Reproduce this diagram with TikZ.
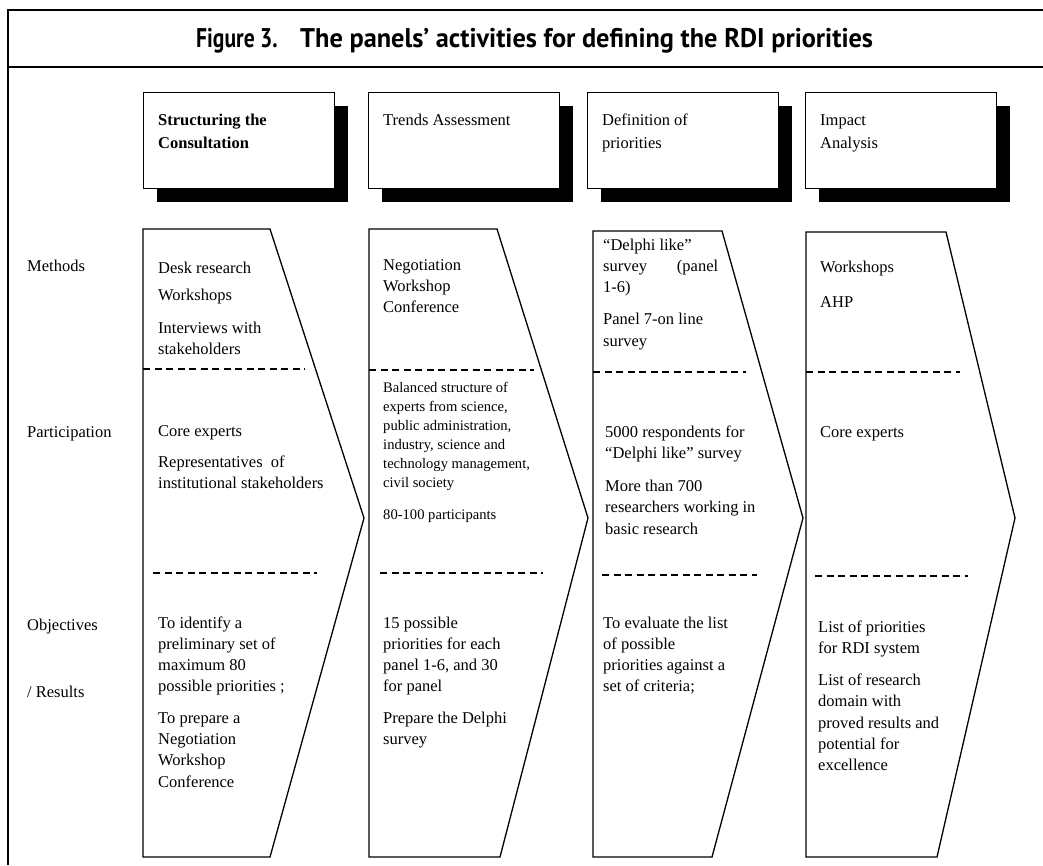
\documentclass[tikz,border=0pt]{standalone}
\usepackage{fontspec}
\setmainfont{Liberation Serif}
\newfontfamily\titlefont{PT Sans}
% a block of lines whose baseline is that of its first line
\newcommand\celltext[1]{\begin{tabular}[t]{@{}l@{}}#1\end{tabular}}
\begin{document}
\begin{tikzpicture}[x=1pt,y=-1pt,
  frame/.style={line width=1.6pt},
  hdrbox/.style={draw,line width=1pt,fill=white,anchor=north west,
    minimum width=191pt,minimum height=96pt,inner sep=0pt},
  hdrshadow/.style={fill=black,anchor=north west,
    minimum width=191pt,minimum height=96pt,inner sep=0pt},
  stage/.style={draw,line width=1.3pt,line join=miter},
  sep/.style={line width=1.3pt,dash pattern=on 7pt off 4.5pt},
  txt/.style={anchor=base west,inner sep=0pt,
    font=\fontsize{16.5}{21.3}\selectfont},
  small/.style={anchor=base west,inner sep=0pt,
    font=\fontsize{14.6}{19}\selectfont},
  hdrtxt/.style={anchor=base west,inner sep=0pt,
    font=\fontsize{16.5}{23}\selectfont},
  rowlbl/.style={anchor=base west,inner sep=0pt,
    font=\fontsize{16.5}{21}\selectfont},
  titletxt/.style={anchor=base west,inner sep=0pt,
    font=\titlefont\bfseries\fontsize{27}{30}\selectfont}
]
\useasboundingbox (0,0) rectangle (1043,865);

% outer frame and title rule
\draw[frame] (1043,10) -- (8,10) -- (8,865);
\draw[frame] (8,67) -- (1043,67);
\node[titletxt] (figno) at (196,47) {\scalebox{0.8}[1]{Figure 3.}};
\node[titletxt] (title) at (300,47) {\scalebox{0.975}[1]{The panels’ activities for defining the RDI priorities}};

% phase header boxes with drop shadows
\node[hdrshadow] (s1) at (157,106) {};
\node[hdrbox] (h1) at (143,92) {};
\node[hdrshadow] (s2) at (382,106) {};
\node[hdrbox] (h2) at (368,92) {};
\node[hdrshadow] (s3) at (601,106) {};
\node[hdrbox] (h3) at (587,92) {};
\node[hdrshadow] (s4) at (819,106) {};
\node[hdrbox] (h4) at (805,92) {};

\node[hdrtxt,font=\fontsize{16.5}{23}\selectfont\bfseries] (h1t) at (158,125) {\celltext{Structuring the\\Consultation}};
\node[hdrtxt] (h2t) at (383,125) {Trends Assessment};
\node[hdrtxt] (h3t) at (602,125) {\celltext{Definition of\\priorities}};
\node[hdrtxt] (h4t) at (820,125) {\celltext{Impact\\Analysis}};

% row labels
\node[rowlbl] (lm) at (27,271) {Methods};
\node[rowlbl] (lp) at (27,437) {Participation};
\node[rowlbl] (lo) at (27,630) {Objectives};
\node[rowlbl] (lr) at (27,697) {/ Results};

% chevron-shaped phase columns
\draw[stage] (143,229) -- (270,229) -- (364,518) -- (270,857) -- (143,857) -- cycle;
\draw[stage] (369,229) -- (497,229) -- (588,518) -- (500,857) -- (369,857) -- cycle;
\draw[stage] (593,231) -- (722,231) -- (803,518) -- (712,857) -- (593,857) -- cycle;
\draw[stage] (806,232) -- (946,232) -- (1015,518) -- (937,857) -- (806,857) -- cycle;

% dashed separators between rows
\draw[sep] (143,369) -- (305,369);
\draw[sep] (153,573) -- (317,573);
\draw[sep] (369,370) -- (534,370);
\draw[sep] (380,573) -- (543,573);
\draw[sep] (593,372) -- (746,372);
\draw[sep] (602,575) -- (757,575);
\draw[sep] (806,372) -- (960,372);
\draw[sep] (815,576) -- (968,576);

% column 1
\node[txt] (m1) at (158,273) {\celltext{Desk research\\[6pt]Workshops\\[12pt]Interviews with\\stakeholders}};
\node[txt] (p1) at (158,436) {\celltext{Core experts\\[10pt]Representatives\ \ of\\institutional stakeholders}};
\node[txt] (o1) at (158,628) {\celltext{To identify a\\preliminary set of\\maximum 80\\possible priorities ;\\[10pt]To prepare a\\Negotiation\\Workshop\\Conference}};

% column 2
\node[txt] (m2) at (383,270) {\celltext{Negotiation\\Workshop\\Conference}};
\node[small] (p2) at (383,392) {\celltext{Balanced structure of\\experts from science,\\public administration,\\industry, science and\\technology management,\\civil society\\[13pt]80-100 participants}};
\node[txt] (o2) at (383,628) {\celltext{15 possible\\priorities for each\\panel 1-6, and 30\\for panel\\[10pt]Prepare the Delphi\\survey}};

% column 3
\node[txt] (m3) at (603,250) {\celltext{“Delphi like”\\\makebox[115pt][s]{survey\hfill(panel}\\1-6)\\[11pt]Panel 7-on line\\survey}};
\node[txt] (p3) at (605,437) {\celltext{5000 respondents for\\“Delphi like” survey\\[12pt]More than 700\\researchers working in\\basic research}};
\node[txt] (o3) at (603,628) {\celltext{To evaluate the list\\of possible\\priorities against a\\set of criteria;}};

% column 4
\node[txt] (m4) at (820,272) {\celltext{Workshops\\[14pt]AHP}};
\node[txt] (p4) at (820,437) {Core experts};
\node[txt] (o4) at (818,632) {\celltext{List of priorities\\for RDI system\\[11pt]List of research\\domain with\\proved results and\\potential for\\excellence}};
\end{tikzpicture}
\end{document}
